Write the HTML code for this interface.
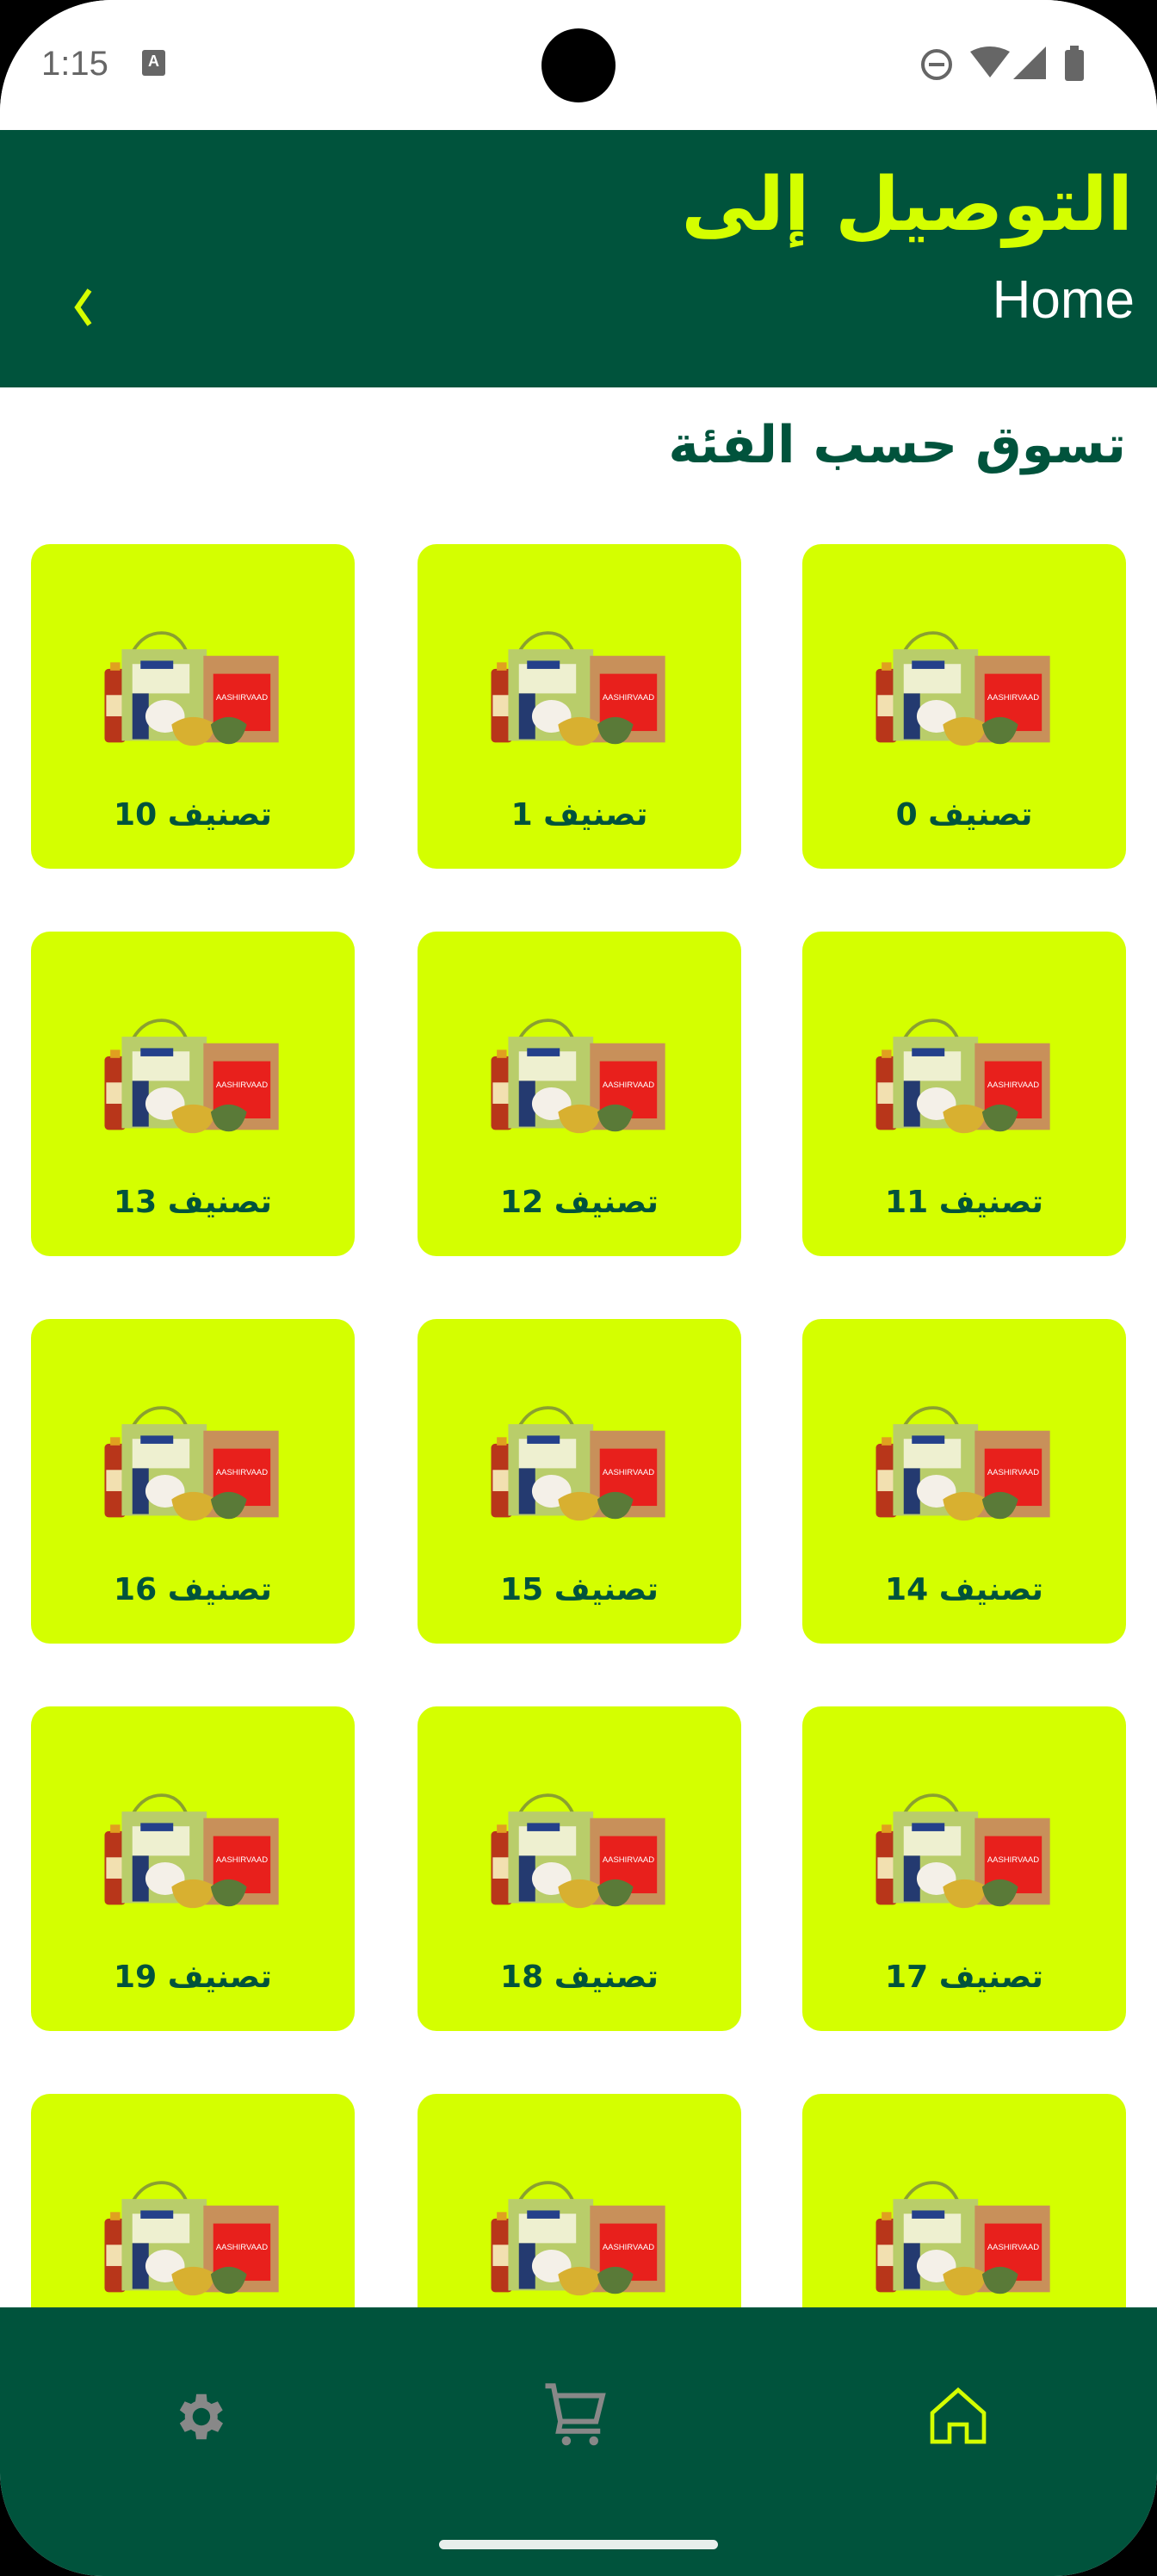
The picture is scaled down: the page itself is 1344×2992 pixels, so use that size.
<!DOCTYPE html>
<html><head><meta charset="utf-8">
<style>
*{margin:0;padding:0;box-sizing:border-box}
html,body{width:1344px;height:2992px;background:#000;overflow:hidden}
#screen{position:absolute;left:0;top:0;width:1344px;height:2992px;background:#fff;border-radius:130px 130px 120px 120px;overflow:hidden;font-family:"DejaVu Sans","Liberation Sans",sans-serif}
#status{position:absolute;left:0;top:0;width:1344px;height:151px;background:#fff}
#header{position:absolute;left:0;top:151px;width:1344px;height:299px;background:#00533c}
.card{position:absolute;width:376px;height:377px;background:#d4ff00;border-radius:22px;overflow:hidden}
.card svg{position:absolute;left:76px;top:84px}
.lbl{position:absolute;left:0;width:376px;top:294px;text-align:center;font-size:36px;font-weight:bold;color:#00533c;direction:rtl}
#nav{position:absolute;left:0;top:2680px;width:1344px;height:312px;background:#00533c}
</style></head><body>
<div id="screen">
<div id="status">
 <div style="position:absolute;left:48px;top:52px;font-family:'Liberation Sans',sans-serif;font-size:40px;color:#666">1:15</div>
 <div style="position:absolute;left:165px;top:58px;width:27px;height:30px;background:#666;border-radius:3px;color:#fff;font-size:18px;text-align:center;font-family:'Liberation Sans';font-weight:bold;line-height:26px">A</div>
 <div style="position:absolute;left:629px;top:33px;width:86px;height:86px;background:#000;border-radius:50%"></div>
 <svg style="position:absolute;left:1065px;top:50px" width="200" height="50">
  <circle cx="23" cy="25" r="16" fill="none" stroke="#666" stroke-width="4"/><rect x="14" y="23" width="18" height="4" fill="#666"/>
  <path d="M62 10 Q85 -2 108 10 L85 40 Z" fill="#666"/>
  <path d="M112 42 L150 4 L150 42 Z" fill="#666"/>
  <rect x="172" y="8" width="22" height="36" rx="3" fill="#666"/><rect x="178" y="3" width="10" height="6" fill="#666"/>
 </svg>
</div>
<div id="header">
 <div style="position:absolute;right:28px;top:40px;font-size:86px;font-weight:bold;color:#d4ff00;direction:rtl;line-height:1.1">التوصيل إلى</div>
 <div style="position:absolute;right:26px;top:162px;font-family:'Liberation Sans',sans-serif;font-size:62px;color:#fff">Home</div>
 <svg style="position:absolute;left:80px;top:180px" width="30" height="50"><path d="M24 6 L10 26 L24 46" fill="none" stroke="#d4ff00" stroke-width="6"/></svg>
</div>
<div style="position:absolute;right:36px;top:482px;font-size:60px;font-weight:bold;color:#00533c;direction:rtl">تسوق حسب الفئة</div>
<div id="grid"></div>
<div id="nav">
 <svg style="position:absolute;left:196px;top:92px" width="70" height="70" viewBox="0 0 24 24"><path fill="#888" d="M19.4 13a7.5 7.5 0 0 0 0-2l2.1-1.6-2-3.5-2.5 1a7 7 0 0 0-1.7-1L15 3h-4l-.4 2.9a7 7 0 0 0-1.7 1l-2.5-1-2 3.5L6.5 11a7.5 7.5 0 0 0 0 2l-2.1 1.6 2 3.5 2.5-1a7 7 0 0 0 1.7 1L11 21h4l.4-2.9a7 7 0 0 0 1.7-1l2.5 1 2-3.5zM13 15.5a3.5 3.5 0 1 1 0-7 3.5 3.5 0 0 1 0 7z"/></svg>
 <svg style="position:absolute;left:626px;top:80px" width="90" height="90" viewBox="0 0 24 24"><path fill="none" stroke="#888" stroke-width="1.6" d="M2 3h2.5l2.2 11h11l2-8H5.2M6.7 14l-.6 3H19"/><circle cx="8.5" cy="20" r="1.4" fill="#888"/><circle cx="17" cy="20" r="1.4" fill="#888"/></svg>
 <svg style="position:absolute;left:1073px;top:86px" width="80" height="80" viewBox="0 0 24 24"><path fill="none" stroke="#d4ff00" stroke-width="1.4" d="M3 11L12 3l9 8v10h-6v-6h-6v6H3z"/></svg>
 <div style="position:absolute;left:510px;top:270px;width:324px;height:11px;border-radius:6px;background:#e8efec"></div>
</div>
</div>
<script>
const categories=["تصنيف 0","تصنيف 1","تصنيف 10","تصنيف 11","تصنيف 12","تصنيف 13","تصنيف 14","تصنيف 15","تصنيف 16","تصنيف 17","تصنيف 18","تصنيف 19","","",""];
const img='<svg width="224" height="156" viewBox="0 0 236 152"><rect x="10" y="58" width="26" height="90" rx="5" fill="#b8361a"/><rect x="17" y="50" width="12" height="10" fill="#e0a020"/><rect x="12" y="90" width="22" height="26" fill="#f2e0b0"/><path d="M45 36 Q58 14 80 14 Q100 14 110 36" fill="none" stroke="#8aa030" stroke-width="4"/><rect x="31" y="34" width="104" height="112" fill="#b9cd6a"/><rect x="44" y="52" width="70" height="36" fill="#eef0d0"/><rect x="54" y="48" width="40" height="10" fill="#24408a"/><rect x="44" y="88" width="20" height="56" fill="#243a70"/><ellipse cx="84" cy="116" rx="24" ry="20" fill="#f4f0e8"/><rect x="131" y="42" width="92" height="106" fill="#c8905a"/><rect x="143" y="64" width="70" height="70" fill="#e8201c"/><text x="178" y="96" font-size="10" fill="#fff" text-anchor="middle" font-family="Liberation Sans">AASHIRVAAD</text><path d="M92 126 Q118 108 146 126 Q140 152 118 152 Q96 152 92 126Z" fill="#d8b030"/><path d="M140 126 Q162 108 184 126 Q178 150 162 150 Q144 150 140 126Z" fill="#5a7a38"/></svg>';
const grid=document.getElementById('grid');
const colX=[932,485,36];
categories.forEach((c,i)=>{
  const d=document.createElement('div');
  d.className='card';
  
  
  d.style.left=colX[i%3]+'px';
  d.style.top=(632+Math.floor(i/3)*450)+'px';
  d.innerHTML=img;
  const l=document.createElement('div');
  l.className='lbl';
  
  
  l.textContent=c;
  d.appendChild(l);
  grid.appendChild(d);
});
</script>
</body></html>
